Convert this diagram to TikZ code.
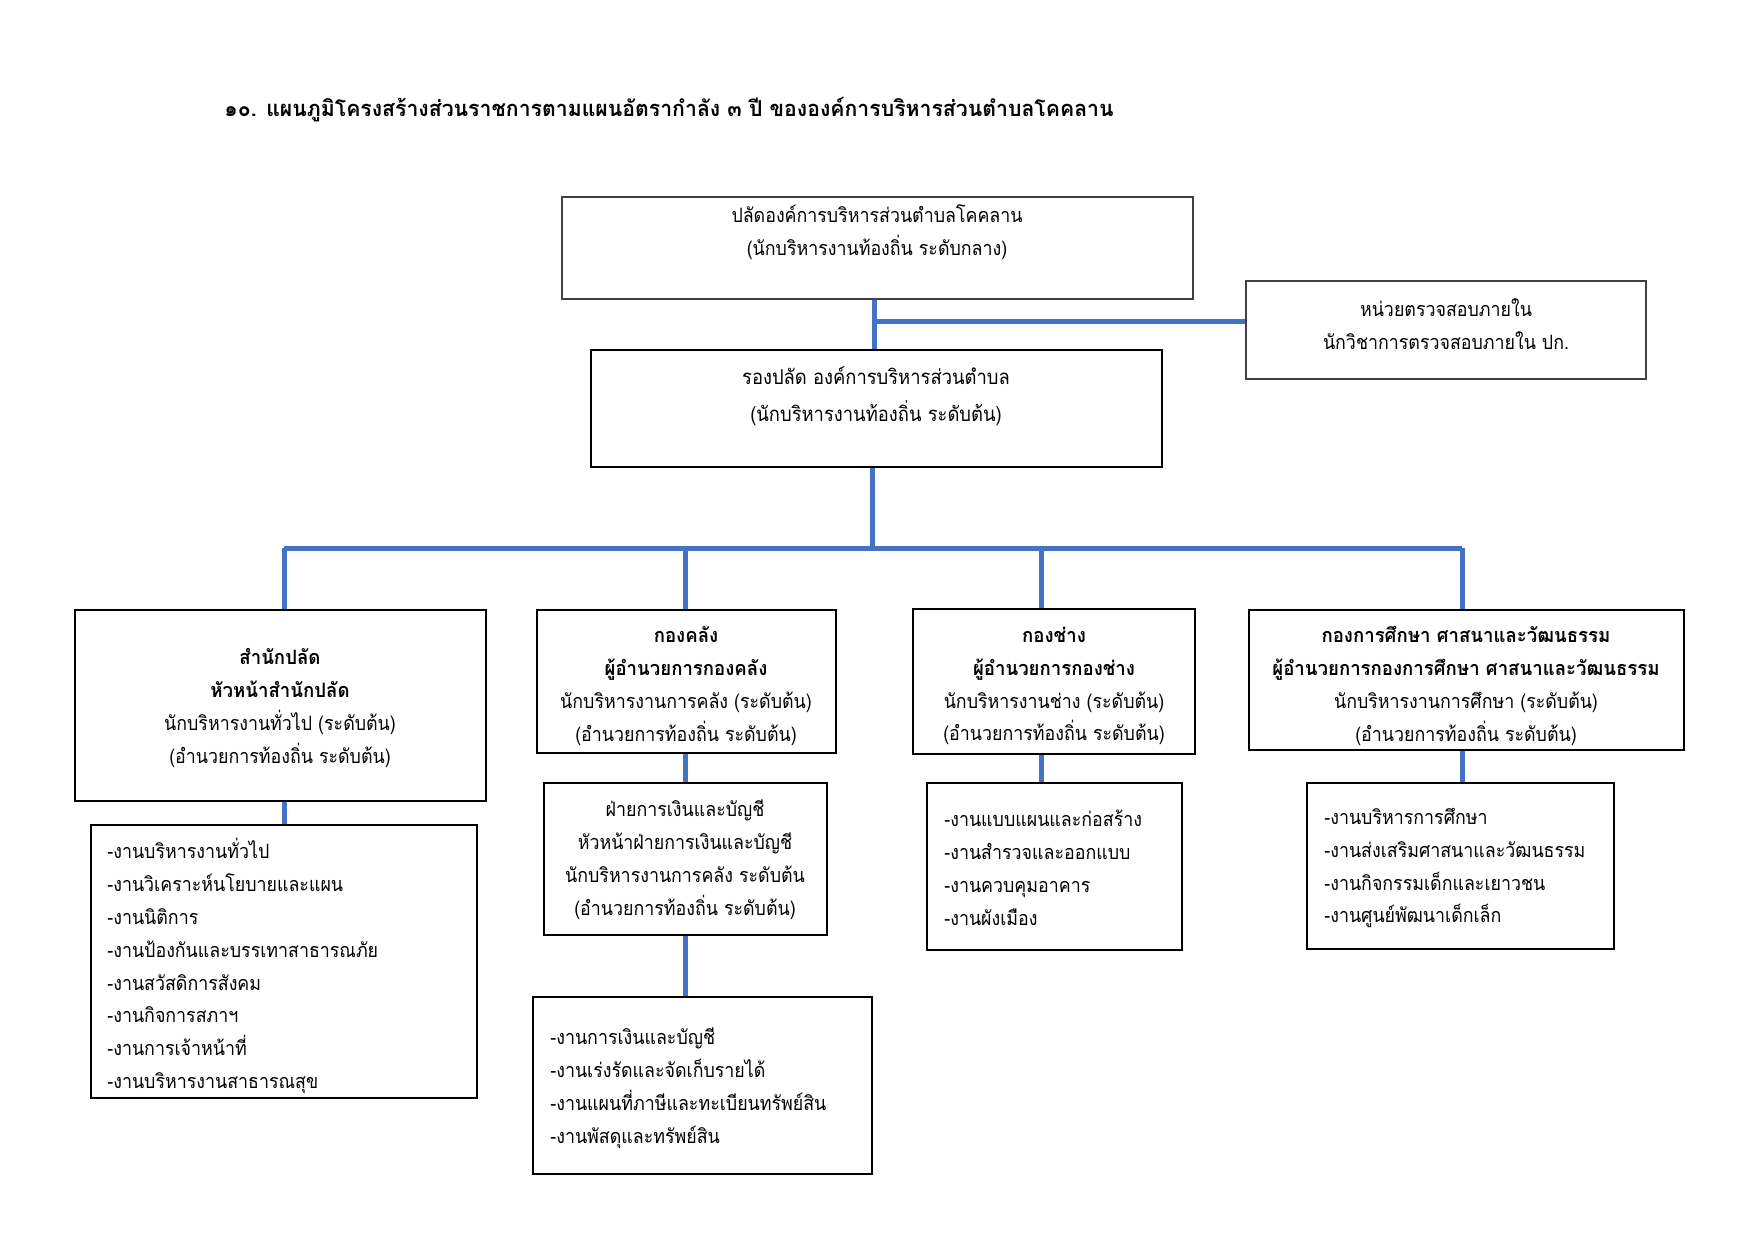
\documentclass[tikz,border=0pt]{standalone}
\usepackage{fontspec}
\newfontfamily\thai[Script=Thai,FakeStretch=0.9]{Loma}
\newfontfamily\thaib[Script=Thai,FakeStretch=0.94]{Loma}
\newfontfamily\thait[Script=Thai,FakeStretch=0.97]{Loma}
\newcommand\thbold[1]{{\thaib\bfseries #1}}
\usetikzlibrary{fit,calc}
\definecolor{linkblue}{RGB}{68,114,196}
\tikzset{
  box/.style={draw=black, line width=1pt, inner sep=0pt, rectangle},
  thinbox/.style={draw=black!75, line width=0.6pt, inner sep=0pt, rectangle},
  conn/.style={draw=linkblue, line width=2.4pt},
  txt/.style={inner sep=0pt, align=center, font=\thai\fontsize{9.5}{15.8}\selectfont},
  ltxt/.style={inner sep=0pt, align=left, font=\thai\fontsize{9.5}{15.8}\selectfont},
}
\begin{document}
\begin{tikzpicture}[x=0.48pt,y=-0.48pt]
\useasboundingbox (0,0) rectangle (1755,1241);
% title
\node[anchor=west, inner sep=0pt, font=\thait\bfseries\fontsize{10.5}{14}\selectfont] (title) at (224,110)
 {๑๐. แผนภูมิโครงสร้างส่วนราชการตามแผนอัตรากำลัง ๓ ปี ขององค์การบริหารส่วนตำบลโคคลาน};
% boxes
\node[thinbox, fit={(562,197) (1193,299)}] (top) {};
\node[thinbox, fit={(1246,281) (1646,379)}] (audit) {};
\node[box, fit={(591,350) (1162,467)}] (dep) {};
\node[box, fit={(75,610) (486,801)}] (office) {};
\node[box, fit={(537,610) (836,753)}] (fin) {};
\node[box, fit={(913,609) (1195,754)}] (eng) {};
\node[box, fit={(1249,610) (1684,750)}] (edu) {};
\node[box, fit={(91,825) (477,1098)}] (otask) {};
\node[box, fit={(544,783) (827,935)}] (fsub) {};
\node[box, fit={(533,997) (872,1174)}] (ftask) {};
\node[box, fit={(927,783) (1182,950)}] (etask) {};
\node[box, fit={(1307,783) (1614,949)}] (edtask) {};
% texts
\node[txt] (ttop) at (877,232) {ปลัดองค์การบริหารส่วนตำบลโคคลาน\\(นักบริหารงานท้องถิ่น ระดับกลาง)};
\node[txt] (taudit) at (1446,324) {หน่วยตรวจสอบภายใน\\นักวิชาการตรวจสอบภายใน ปก.};
\node[txt, font=\thai\fontsize{9.8}{17.8}\selectfont] (tdep) at (876,396) {รองปลัด องค์การบริหารส่วนตำบล\\(นักบริหารงานท้องถิ่น ระดับต้น)};
\node[txt] (toffice) at (280,708) {\thbold{สำนักปลัด}\\\thbold{หัวหน้าสำนักปลัด}\\นักบริหารงานทั่วไป (ระดับต้น)\\(อำนวยการท้องถิ่น ระดับต้น)};
\node[txt] (tfin) at (686,686) {\thbold{กองคลัง}\\\thbold{ผู้อำนวยการกองคลัง}\\นักบริหารงานการคลัง (ระดับต้น)\\(อำนวยการท้องถิ่น ระดับต้น)};
\node[txt] (teng) at (1054,686) {\thbold{กองช่าง}\\\thbold{ผู้อำนวยการกองช่าง}\\นักบริหารงานช่าง (ระดับต้น)\\(อำนวยการท้องถิ่น ระดับต้น)};
\node[txt] (tedu) at (1466,686) {\thbold{กองการศึกษา ศาสนาและวัฒนธรรม}\\\thbold{ผู้อำนวยการกองการศึกษา ศาสนาและวัฒนธรรม}\\นักบริหารงานการศึกษา (ระดับต้น)\\(อำนวยการท้องถิ่น ระดับต้น)};
\node[txt] (tfsub) at (685,860) {ฝ่ายการเงินและบัญชี\\หัวหน้าฝ่ายการเงินและบัญชี\\นักบริหารงานการคลัง ระดับต้น\\(อำนวยการท้องถิ่น ระดับต้น)};
\node[ltxt, anchor=west] (totask) at (107,966) {-งานบริหารงานทั่วไป\\-งานวิเคราะห์นโยบายและแผน\\-งานนิติการ\\-งานป้องกันและบรรเทาสาธารณภัย\\-งานสวัสดิการสังคม\\-งานกิจการสภาฯ\\-งานการเจ้าหน้าที่\\-งานบริหารงานสาธารณสุข};
\node[ltxt, anchor=west] (tftask) at (550,1088) {-งานการเงินและบัญชี\\-งานเร่งรัดและจัดเก็บรายได้\\-งานแผนที่ภาษีและทะเบียนทรัพย์สิน\\-งานพัสดุและทรัพย์สิน};
\node[ltxt, anchor=west] (tetask) at (944,868) {-งานแบบแผนและก่อสร้าง\\-งานสำรวจและออกแบบ\\-งานควบคุมอาคาร\\-งานผังเมือง};
\node[ltxt, anchor=west] (tedtask) at (1324,868) {-งานบริหารการศึกษา\\-งานส่งเสริมศาสนาและวัฒนธรรม\\-งานกิจกรรมเด็กและเยาวชน\\-งานศูนย์พัฒนาเด็กเล็ก};
% connectors
\coordinate (ja) at (874,321);
\coordinate (bus) at (872,548);
\coordinate (dO) at (284,548);
\coordinate (dF) at (685,548);
\coordinate (dE) at (1041,548);
\coordinate (dD) at (1462,548);
\draw[conn] (ja |- top.south) -- (ja |- dep.north);
\draw[conn] (ja) -- (ja -| audit.west);
\draw[conn] (bus |- dep.south) -- (bus);
\draw[conn] (dO) -- (dD);
\draw[conn] (dO) -- (dO |- office.north);
\draw[conn] (dF) -- (dF |- fin.north);
\draw[conn] (dE) -- (dE |- eng.north);
\draw[conn] (dD) -- (dD |- edu.north);
\draw[conn] (dO |- office.south) -- (dO |- otask.north);
\draw[conn] (dF |- fin.south) -- (dF |- fsub.north);
\draw[conn] (dF |- fsub.south) -- (dF |- ftask.north);
\draw[conn] (dE |- eng.south) -- (dE |- etask.north);
\draw[conn] (dD |- edu.south) -- (dD |- edtask.north);
\end{tikzpicture}
\end{document}
